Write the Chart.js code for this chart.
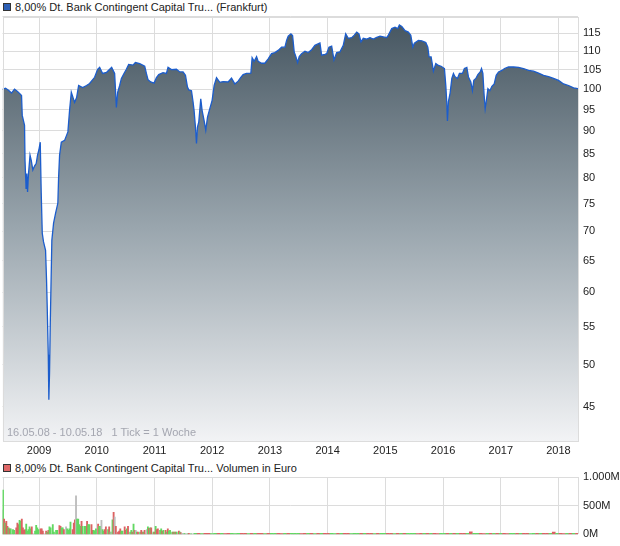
<!DOCTYPE html>
<html>
<head>
<meta charset="utf-8">
<script src="https://cdn.jsdelivr.net/npm/chart.js@4.4.0/dist/chart.umd.min.js"></script>
<style>
  body { margin: 0; background: #fff; width: 620px; height: 546px; position: relative; overflow: hidden;
         font-family: "Liberation Sans", Arial, sans-serif; }
  canvas { position: absolute; left: 0; }
  .lg { position: absolute; left: 15px; font-size: 11px; line-height: 14px; color: #222; white-space: nowrap; }
  .box { position: absolute; left: 3px; width: 6px; height: 6px; border: 1px solid #333; }
  #note { position: absolute; left: 7px; top: 426px; font-size: 11px; color: #a4a6b0; white-space: nowrap; z-index: 2; }
</style>
</head>
<body>
<div class="box" style="top:3px;background:#2d5fb5"></div>
<div class="lg" style="top:0px">8,00% Dt. Bank Contingent Capital Tru... (Frankfurt)</div>
<canvas id="price" width="620" height="460" style="top:0"></canvas>
<div id="note">16.05.08 - 10.05.18&nbsp;&nbsp;&nbsp;1 Tick = 1 Woche</div>
<div class="box" style="top:464px;background:#e06868"></div>
<div class="lg" style="top:461px">8,00% Dt. Bank Contingent Capital Tru... Volumen in Euro</div>
<canvas id="volume" width="620" height="86" style="top:460px"></canvas>

<script>
// x axis range (decimal years) and ticks
const startYear = 2008.367;   // 16.05.08
const endYear = 2018.338;     // 10.05.18
const yearTicks = [2009, 2010, 2011, 2012, 2013, 2014, 2015, 2016, 2017, 2018];
const priceTicks = [45, 50, 55, 60, 65, 70, 75, 80, 85, 90, 95, 100, 105, 110, 115, 120];
const volTicks = [0, 500, 1000];

// price (weekly close)
const priceDates = [
  2008.367, 2008.419, 2008.471, 2008.523, 2008.575, 2008.627, 2008.671, 2008.697, 2008.709, 2008.749,
  2008.757, 2008.775, 2008.789, 2008.801, 2008.818, 2008.844, 2008.865, 2008.893, 2008.922, 2008.952,
  2008.974, 2008.997, 2009.021, 2009.038, 2009.056, 2009.078, 2009.113, 2009.130, 2009.143, 2009.160,
  2009.170, 2009.182, 2009.195, 2009.222, 2009.252, 2009.287, 2009.326, 2009.339, 2009.356, 2009.386,
  2009.443, 2009.500, 2009.529, 2009.559, 2009.616, 2009.651, 2009.686, 2009.755, 2009.824, 2009.876,
  2009.963, 2010.015, 2010.050, 2010.102, 2010.171, 2010.258, 2010.310, 2010.340, 2010.362, 2010.397,
  2010.427, 2010.472, 2010.513, 2010.553, 2010.628, 2010.669, 2010.744, 2010.831, 2010.860, 2010.888,
  2010.935, 2010.992, 2011.034, 2011.074, 2011.148, 2011.207, 2011.235, 2011.294, 2011.381, 2011.438,
  2011.495, 2011.537, 2011.572, 2011.594, 2011.641, 2011.669, 2011.686, 2011.710, 2011.728, 2011.745,
  2011.768, 2011.802, 2011.825, 2011.860, 2011.889, 2011.919, 2011.959, 2011.999, 2012.034, 2012.075,
  2012.132, 2012.190, 2012.276, 2012.335, 2012.392, 2012.450, 2012.496, 2012.536, 2012.595, 2012.670,
  2012.692, 2012.727, 2012.769, 2012.797, 2012.855, 2012.912, 2012.970, 2013.029, 2013.086, 2013.143,
  2013.202, 2013.260, 2013.289, 2013.317, 2013.364, 2013.393, 2013.421, 2013.450, 2013.480, 2013.508,
  2013.549, 2013.607, 2013.664, 2013.723, 2013.780, 2013.867, 2013.896, 2013.954, 2013.983, 2014.023,
  2014.070, 2014.110, 2014.157, 2014.214, 2014.271, 2014.313, 2014.358, 2014.417, 2014.462, 2014.504,
  2014.543, 2014.578, 2014.618, 2014.677, 2014.734, 2014.792, 2014.851, 2014.908, 2014.965, 2015.024,
  2015.052, 2015.111, 2015.168, 2015.215, 2015.243, 2015.285, 2015.342, 2015.399, 2015.441, 2015.476,
  2015.503, 2015.573, 2015.632, 2015.701, 2015.736, 2015.758, 2015.793, 2015.816, 2015.833, 2015.874,
  2015.920, 2015.966, 2016.024, 2016.048, 2016.065, 2016.076, 2016.093, 2016.122, 2016.152, 2016.180,
  2016.209, 2016.249, 2016.284, 2016.336, 2016.370, 2016.412, 2016.440, 2016.481, 2016.509, 2016.533,
  2016.568, 2016.603, 2016.643, 2016.666, 2016.690, 2016.712, 2016.730, 2016.747, 2016.777, 2016.811,
  2016.846, 2016.886, 2016.921, 2016.961, 2017.020, 2017.065, 2017.134, 2017.221, 2017.308, 2017.394,
  2017.481, 2017.567, 2017.654, 2017.741, 2017.828, 2017.914, 2018.001, 2018.088, 2018.174, 2018.261,
  2018.338
];
const priceValues = [
  99.9, 100.2, 99.7, 99.0, 100.0, 99.4, 98.8, 98.4, 93.6, 91.3,
  83.6, 77.9, 80.9, 77.2, 80.9, 84.7, 83.6, 81.6, 82.4, 83.0,
  84.7, 85.8, 87.5, 77.0, 69.6, 68.1, 66.7, 61.9, 57.4, 51.3,
  45.8, 49.0, 55.6, 68.4, 71.4, 73.2, 75.1, 80.1, 84.7, 87.5,
  87.9, 89.8, 94.8, 99.2, 96.7, 97.9, 100.9, 100.4, 100.9, 101.4,
  103.0, 105.1, 105.6, 104.0, 104.3, 105.6, 104.0, 95.5, 99.2, 100.9,
  102.7, 104.0, 105.1, 106.4, 106.2, 106.9, 106.6, 105.9, 104.0, 102.4,
  101.8, 101.5, 102.9, 103.7, 104.2, 104.0, 105.6, 105.0, 105.1, 104.4,
  104.4, 103.5, 100.5, 99.8, 99.6, 96.8, 94.8, 90.9, 87.2, 90.9,
  92.1, 97.6, 94.8, 92.4, 90.2, 93.2, 95.2, 97.2, 100.9, 102.9,
  101.7, 101.9, 101.8, 102.8, 101.3, 102.0, 103.0, 103.7, 104.0, 104.1,
  108.2, 107.2, 108.5, 107.2, 106.7, 106.7, 107.9, 109.3, 109.6, 110.2,
  111.1, 111.1, 113.0, 114.2, 114.9, 114.4, 109.8, 108.5, 106.9, 108.5,
  109.3, 110.0, 109.6, 110.4, 111.6, 112.3, 108.9, 109.1, 109.3, 111.1,
  111.4, 107.6, 109.6, 109.8, 111.6, 114.9, 113.6, 113.8, 114.5, 115.4,
  114.9, 112.6, 113.6, 113.4, 113.8, 113.4, 113.9, 114.2, 114.0, 113.8,
  114.5, 116.4, 116.8, 116.4, 117.5, 117.0, 115.8, 115.4, 114.5, 111.1,
  112.2, 113.0, 112.9, 112.4, 111.1, 108.4, 108.4, 106.3, 104.6, 106.6,
  106.1, 105.9, 105.3, 100.8, 96.5, 92.3, 96.9, 99.0, 102.7, 104.0,
  103.1, 102.7, 104.0, 104.0, 105.3, 105.6, 103.1, 101.8, 99.6, 102.2,
  102.7, 103.7, 104.4, 105.3, 104.0, 98.4, 95.2, 96.8, 100.1, 99.6,
  100.7, 101.3, 103.5, 104.4, 104.8, 105.3, 105.7, 105.7, 105.6, 105.3,
  104.8, 104.6, 104.1, 103.5, 103.2, 102.7, 102.2, 101.3, 100.9, 100.3,
  100.1
];

// volume in million euro, by week number since 16.05.08; g = up, r = down, n = unchanged
const volWeeks = [
  0, 1, 2, 3, 4, 5, 6, 7, 8, 10, 11, 13, 14, 15, 16, 17, 18, 19, 20, 21,
  22, 23, 24, 25, 26, 27, 30, 31, 32, 33, 35, 36, 37, 40, 41, 42, 43, 44, 46, 47,
  49, 50, 52, 53, 54, 55, 56, 58, 59, 60, 61, 62, 64, 65, 66, 67, 68, 69, 70, 71,
  72, 73, 75, 76, 77, 78, 79, 81, 82, 83, 84, 85, 87, 88, 89, 90, 91, 92, 93, 94,
  96, 97, 98, 99, 100, 101, 102, 103, 105, 106, 107, 108, 109, 111, 112, 113, 114, 116, 117, 118,
  119, 120, 121, 122, 123, 125, 126, 127, 128, 129, 131, 132, 133, 134, 135, 137, 138, 139, 140, 141,
  143, 144, 145, 146, 148, 149, 150, 151, 152, 154, 155, 156, 157, 158, 160, 161, 162, 163, 165, 166,
  168, 169, 171
];
const volValues = [
  424, 774, 266, 198, 226, 141, 113, 96, 96, 85, 73, 113, 198, 170, 243, 226, 266, 113, 73, 85,
  181, 57, 85, 130, 96, 130, 57, 158, 113, 85, 96, 96, 57, 57, 40, 73, 130, 113, 170, 40,
  73, 73, 153, 141, 113, 113, 85, 130, 96, 73, 96, 215, 85, 198, 254, 672, 266, 266, 170, 141,
  226, 141, 141, 141, 226, 170, 170, 170, 73, 73, 57, 96, 181, 141, 141, 243, 85, 57, 85, 130,
  85, 130, 40, 40, 254, 384, 300, 141, 40, 57, 96, 57, 57, 130, 73, 96, 141, 40, 73, 40,
  181, 73, 73, 40, 40, 40, 73, 40, 40, 73, 85, 130, 107, 113, 113, 40, 40, 141, 85, 96,
  73, 96, 57, 73, 73, 40, 96, 57, 73, 40, 40, 40, 40, 40, 57, 40, 28, 17, 17, 11,
  11, 17, 11
];
const volDir =
  'ngrgrrgrggg' + 'rrrggrrrrg' + 'ggggrggggrrrrgrggggggrrggrnggggrrrnggg' +
  'grgggrggrrgggrggnggrrgrgngrnrrrrggrrgrggrgrngrgrrgrngrgrgrgrrggrgrgrgggrgrgrgrngngrgrgngr';

// tail: every third week from week 173, tiny volumes
const tailStart = 173;
const tailValues = [
  20, 20, 16, 20, 20, 16, 20, 20, 20, 16, 20, 20, 16, 20, 20, 20, 16, 20, 20, 20,
  20, 16, 20, 20, 20, 20, 16, 20, 20, 20, 20, 20, 16, 20, 20, 20, 16, 20, 20, 20,
  20, 20, 16, 20, 20, 20, 20, 16, 20, 20, 20, 20, 20, 20, 16, 20, 20, 20, 20, 20,
  16, 20, 20, 20, 20, 20, 20, 16, 20, 20, 20, 20, 20, 16, 20, 20, 20, 20, 20, 20,
  20, 20, 20, 45, 20, 20, 20, 16, 20, 20, 20, 20, 20, 20, 16, 20, 20, 20, 20, 20,
  20, 16, 20, 20, 20, 20, 20, 20, 40, 20, 20, 16, 20, 20, 20, 20, 20
];
const tailDir =
  'grgrrggrgrrgggrrgrgrrgrggrrgrgggrrgrgrgrrggrgrrgggrgrrgrggrrgrgrgggrrgrgrr' +
  'ggrgrgrrgrggrrgrgrgrrggrgrrggrgrr' + 'grgrrgrgrg';
</script>

<script>
const DAYS = 7 / 365.25;
const dirColor = { g: '#62d862', r: '#dc6262', n: '#bdbdbd' };
Chart.defaults.font.family = '"Liberation Sans", Arial, sans-serif';
Chart.defaults.font.size = 11;
Chart.defaults.color = '#222';

const gridColor = '#dcdcdc';

function strokeFrame(chart) {
  const a = chart.chartArea, c = chart.ctx;
  c.save();
  c.strokeStyle = gridColor;
  c.lineWidth = 1;
  c.strokeRect(Math.round(a.left) + 0.5, Math.round(a.top) + 0.5,
               Math.round(a.right - a.left) - 1, Math.round(a.bottom - a.top) - 1);
  c.restore();
}
// price: frame on top of the fill; volume: frame below the bars
const frameOver = { id: 'frameOver', afterDatasetsDraw: strokeFrame };
const frameUnder = { id: 'frameUnder', beforeDatasetsDraw: strokeFrame };

function xScale(showLabels, height) {
  return {
    type: 'linear',
    min: startYear,
    max: endYear,
    offset: false,
    afterBuildTicks: s => { s.ticks = yearTicks.map(v => ({ value: v })); },
    afterFit: s => { s.height = height; },
    grid: { color: gridColor, drawTicks: false, offset: false },
    border: { display: false },
    ticks: {
      display: showLabels,
      autoSkip: false,
      maxRotation: 0,
      padding: 3,
      color: '#222',
      font: { size: 11 },
      callback: v => String(v)
    }
  };
}

new Chart(document.getElementById('price'), {
  type: 'line',
  data: {
    datasets: [{
      data: priceDates.map((d, i) => ({ x: d, y: priceValues[i] })),
      borderColor: '#1c5dcc',
      borderWidth: 1.3,
      pointRadius: 0,
      tension: 0,
      fill: 'start',
      backgroundColor: ctx => {
        const a = ctx.chart.chartArea;
        if (!a) return '#8a99a3';
        const g = ctx.chart.ctx.createLinearGradient(0, a.top, 0, a.bottom);
        g.addColorStop(0, '#44545f');
        g.addColorStop(0.5, '#9aa6ae');
        g.addColorStop(1, '#f2f3f5');
        return g;
      }
    }]
  },
  options: {
    responsive: false,
    animation: false,
    events: [],
    layout: { padding: { top: 16.5, left: 2.5, right: 0, bottom: 0 } },
    plugins: { legend: { display: false }, tooltip: { enabled: false } },
    scales: {
      x: xScale(true, 19),
      y: {
        type: 'logarithmic',
        position: 'right',
        min: 41.3,
        max: 120,
        afterBuildTicks: s => { s.ticks = priceTicks.map(v => ({ value: v })); },
        afterFit: s => { s.width = 42; },
        grid: { color: gridColor, drawTicks: false },
        border: { display: false },
        ticks: {
          padding: 5,
          color: '#222',
          font: { size: 11 },
          callback: v => (v === 120 ? '' : String(v))
        }
      }
    }
  },
  plugins: [frameOver]
});

const mainBars = volWeeks.map((w, i) => ({ x: startYear + w * DAYS, y: volValues[i] }));
const tailBars = tailValues.map((v, i) => ({ x: startYear + (tailStart + i * 3) * DAYS, y: v }));

new Chart(document.getElementById('volume'), {
  type: 'bar',
  data: {
    datasets: [
      {
        data: mainBars,
        backgroundColor: volWeeks.map((w, i) => dirColor[volDir[i]]),
        barThickness: 1.2,
        borderWidth: 0
      },
      {
        data: tailBars,
        backgroundColor: tailValues.map((v, i) => dirColor[tailDir[i]]),
        barThickness: 3,
        borderWidth: 0
      }
    ]
  },
  options: {
    responsive: false,
    animation: false,
    events: [],
    layout: { padding: { top: 17, left: 2.5, right: 0, bottom: 0 } },
    plugins: { legend: { display: false }, tooltip: { enabled: false } },
    scales: {
      x: xScale(false, 10),
      y: {
        position: 'right',
        min: 0,
        max: 1000,
        afterBuildTicks: s => { s.ticks = volTicks.map(v => ({ value: v })); },
        afterFit: s => { s.width = 42; },
        grid: { color: gridColor, drawTicks: false },
        border: { display: false },
        ticks: {
          padding: 5,
          color: '#222',
          font: { size: 11 },
          callback: v => (v === 1000 ? '1.000M' : v + 'M')
        }
      }
    }
  },
  plugins: [frameUnder]
});
</script>
</body>
</html>
